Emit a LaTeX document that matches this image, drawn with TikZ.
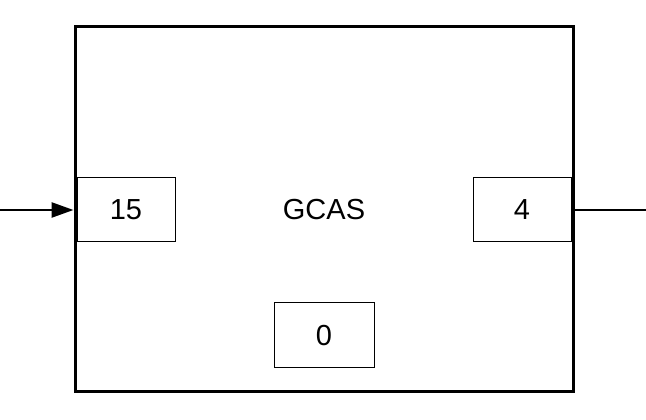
\documentclass[tikz,border=0pt]{standalone}
\usepackage{fontspec}
\setmainfont{Liberation Sans}
\usetikzlibrary{arrows.meta}
\begin{document}
\begin{tikzpicture}[x=1pt,y=1pt,
  txt/.style={font=\fontsize{29}{34}\selectfont},
  port/.style={txt,draw=black,line width=1pt,minimum width=98pt,minimum height=64pt,inner sep=0pt},
  block/.style={draw=black,line width=3pt,minimum width=498pt,minimum height=365pt,inner sep=0pt},
  wire/.style={line width=2.6pt}]
\useasboundingbox (0,0) rectangle (646,420);
\node[block] (main) at (324,210.5) {};
\node[txt] (label) at (324,210) {GCAS};
\node[port,anchor=west] (in) at (76.5,210) {15};
\node[port,anchor=east] (out) at (571.5,210) {4};
\node[port,minimum width=100pt,minimum height=65pt] (ctl) at (324,84.5) {0};
\coordinate (src) at (0,210);
\coordinate (dst) at (646,210);
\draw[wire,-{Triangle[length=22pt,width=15pt]}] (src) -- (main.west |- in.west);
\draw[wire] (main.east |- out.east) -- (dst);
\end{tikzpicture}
\end{document}
